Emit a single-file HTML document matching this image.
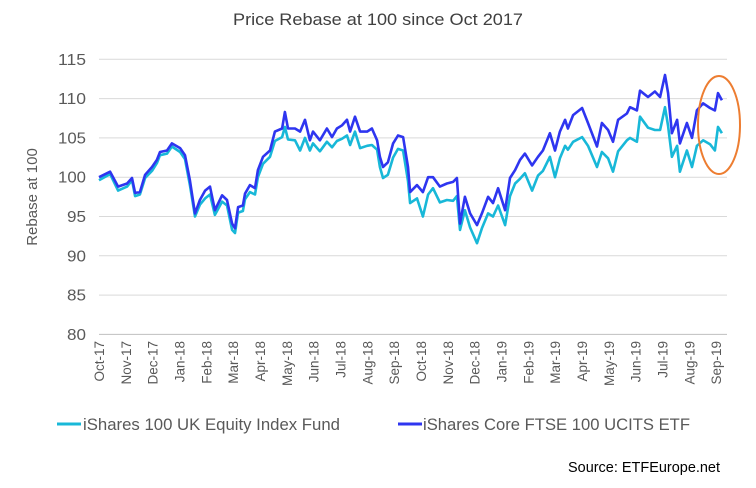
<!DOCTYPE html>
<html><head><meta charset="utf-8"><style>
body{margin:0;background:#fff;font-family:"Liberation Sans",sans-serif;}
svg text{font-family:"Liberation Sans",sans-serif;}
</style></head><body>
<svg id="chart" width="756" height="483" xmlns="http://www.w3.org/2000/svg">
<text x="233" y="25" textLength="290" lengthAdjust="spacingAndGlyphs" font-size="16.5" fill="#404040">Price Rebase at 100 since Oct 2017</text>
<text transform="translate(37,197) rotate(-90)" text-anchor="middle" font-size="15" fill="#595959">Rebase at 100</text>
<g id="grid"></g><g id="yt"></g><g id="xt"></g><g id="series"></g>
<ellipse cx="719" cy="125" rx="21" ry="49" fill="none" stroke="#ED7D31" stroke-width="2"/>
<line x1="57" y1="424" x2="81" y2="424" stroke="#18B8D8" stroke-width="3"/>
<text x="83" y="430" textLength="257" lengthAdjust="spacingAndGlyphs" font-size="16.5" fill="#595959">iShares 100 UK Equity Index Fund</text>
<line x1="398" y1="424" x2="422" y2="424" stroke="#2E35F0" stroke-width="3"/>
<text x="423" y="430" textLength="267" lengthAdjust="spacingAndGlyphs" font-size="16.5" fill="#595959">iShares Core FTSE 100 UCITS ETF</text>
<text x="568" y="472" textLength="152" lengthAdjust="spacingAndGlyphs" font-size="14.5" fill="#000">Source: ETFEurope.net</text>
</svg>
<script>
const yTicks=[80,85,90,95,100,105,110,115];
const months=["Oct-17","Nov-17","Dec-17","Jan-18","Feb-18","Mar-18","Apr-18","May-18","Jun-18","Jul-18","Aug-18","Sep-18","Oct-18","Nov-18","Dec-18","Jan-19","Feb-19","Mar-19","Apr-19","May-19","Jun-19","Jul-19","Aug-19","Sep-19"];
const dates=[0,0.43,0.74,1.09,1.28,1.40,1.59,1.79,2.06,2.25,2.37,2.64,2.83,3.15,3.34,3.53,3.73,3.92,4.12,4.31,4.50,4.78,4.97,5.17,5.28,5.40,5.59,5.67,5.86,6.06,6.17,6.37,6.64,6.83,7.11,7.22,7.34,7.61,7.81,8.00,8.19,8.31,8.58,8.85,9.05,9.24,9.44,9.63,9.75,9.94,10.14,10.41,10.60,10.80,10.91,11.03,11.22,11.42,11.61,11.81,12.00,12.08,12.35,12.58,12.78,12.97,13.24,13.51,13.75,13.90,14.02,14.21,14.41,14.68,14.87,15.11,15.30,15.50,15.77,15.96,16.16,16.35,16.54,16.82,17.05,17.24,17.51,17.71,17.90,18.10,18.21,18.41,18.76,18.99,19.34,19.53,19.77,19.96,20.16,20.50,20.62,20.89,21.01,21.32,21.59,21.79,21.98,22.10,22.25,22.45,22.56,22.83,23.03,23.22,23.46,23.73,23.92,24.04,24.19];
const coreFtse=[100.0,100.7,98.8,99.2,99.9,98.0,98.1,100.3,101.3,102.2,103.2,103.4,104.3,103.7,102.8,99.6,95.4,97.1,98.3,98.8,95.8,97.7,97.1,94.1,93.5,96.2,96.4,97.9,99.0,98.6,100.9,102.6,103.4,105.8,106.2,108.3,106.2,106.2,105.8,107.3,104.7,105.8,104.7,106.2,105.1,106.2,106.6,107.3,105.8,107.7,105.8,105.8,106.2,104.7,102.6,101.3,101.9,104.3,105.3,105.1,101.3,98.1,99.0,98.1,100.0,100.0,98.8,99.2,99.4,99.9,94.1,97.5,95.4,93.9,95.4,97.5,96.7,98.6,95.8,99.9,100.9,102.2,103.0,101.5,102.6,103.4,105.6,103.4,105.8,107.3,106.2,107.9,108.8,106.9,103.9,106.9,106.0,104.5,107.3,108.1,108.9,108.5,111.0,110.2,110.9,110.2,113.0,110.7,105.6,107.3,104.3,106.9,105.0,108.5,109.4,108.8,108.5,110.7,109.8];
const ukEquity=[99.6,100.4,98.3,98.8,99.6,97.6,97.8,99.9,100.8,101.8,102.8,103.0,103.9,103.2,102.3,99.0,95.0,96.5,97.3,97.8,95.2,96.9,96.4,93.3,92.9,95.5,95.7,97.2,98.1,97.8,100.0,101.7,102.6,104.6,105.1,106.4,104.8,104.7,103.4,105.0,103.4,104.3,103.3,104.5,103.8,104.6,104.9,105.3,104.1,105.8,103.7,104.0,104.1,103.5,101.3,99.9,100.3,102.5,103.6,103.4,99.5,96.7,97.3,95.0,97.8,98.6,96.8,97.1,97.0,97.6,93.3,95.8,93.6,91.6,93.5,95.4,95.0,96.4,93.9,97.6,99.2,99.8,100.5,98.3,100.2,100.8,102.6,100.0,102.4,104.0,103.5,104.5,105.1,104.0,101.3,103.2,102.4,100.7,103.3,104.7,105.0,104.5,107.7,106.3,106.0,106.0,108.9,106.5,102.6,104.0,100.7,103.4,101.3,104.0,104.7,104.2,103.4,106.4,105.6];
const NS="http://www.w3.org/2000/svg";
const y=v=>334.4-(v-80)*7.86;
const x=m=>99+m*25.75;
const monthPos=i=>i*26.83/25.75;
function mk(t,a,p){const e=document.createElementNS(NS,t);for(const k in a)e.setAttribute(k,a[k]);p.appendChild(e);return e;}
const grid=document.getElementById('grid'),yt=document.getElementById('yt'),xt=document.getElementById('xt'),ser=document.getElementById('series');
yTicks.forEach(v=>{
 const l=mk('line',{x1:99,x2:727,y1:y(v),y2:y(v),stroke:v===80?'#BFBFBF':'#D9D9D9','stroke-width':1},grid);
 
 
 const t=mk('text',{x:58,y:y(v)+5.5,textLength:28,lengthAdjust:'spacingAndGlyphs','font-size':15.5,fill:'#595959'},yt);
 if(v<100){t.setAttribute('x',67);t.setAttribute('textLength',19);}
 t.textContent=v;
 
 
});
months.forEach((m,i)=>{
 const px=x(monthPos(i));
 const t=mk('text',{transform:`translate(${px+5},341) rotate(-90)`,'text-anchor':'end','font-size':13.5,fill:'#595959'},xt);
 t.textContent=m;
 
 
});
function line(vals,color,name){
 const d=vals.map((v,i)=>(i?'L':'M')+x(dates[i]).toFixed(1)+','+y(v).toFixed(1)).join('');
 const p=mk('path',{d:d,fill:'none',stroke:color,'stroke-width':2.6,'stroke-linejoin':'round'},ser);
 
 
}
line(ukEquity,'#18B8D8','series-uk-equity-line');
line(coreFtse,'#2E35F0','series-core-ftse-line');
</script>
</body></html>
